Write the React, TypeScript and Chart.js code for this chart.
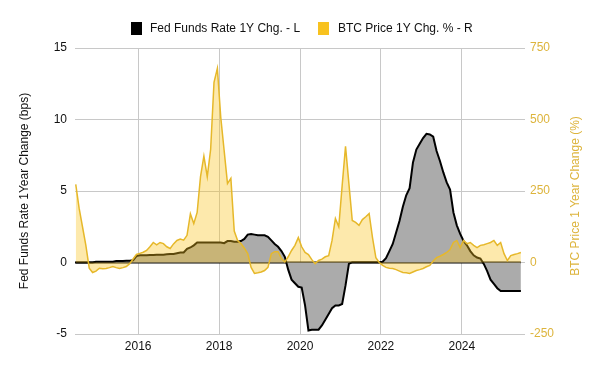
import React, { useEffect, useRef } from "react";
import { Chart, registerables } from "chart.js";

Chart.register(...registerables);

// Monthly observations, June 2014 .. June 2025
const startYear = 2014;
const startMonth = 6;

// Fed Funds Rate 1Y change (left axis)
const fedChange = [
  0, 0, 0, 0, 0, 0, 0.05, 0.05, 0.05, 0.05, 0.05, 0.05,
  0.1, 0.1, 0.1, 0.12, 0.12, 0.15, 0.45, 0.5, 0.5, 0.5, 0.52, 0.52,
  0.55, 0.55, 0.55, 0.58, 0.6, 0.6, 0.65, 0.7, 0.7, 0.95, 1.05, 1.2,
  1.4, 1.4, 1.4, 1.4, 1.4, 1.4, 1.4, 1.4, 1.35, 1.5, 1.5, 1.45,
  1.45, 1.5, 1.65, 1.95, 2.0, 1.95, 1.9, 1.9, 1.9, 1.8, 1.55, 1.3,
  1.1, 0.8, 0.4, -0.5, -1.2, -1.45, -1.7, -1.75, -3.0, -4.75, -4.7, -4.7,
  -4.7, -4.4, -4.0, -3.6, -3.2, -3.0, -3.0, -2.9, -1.6, -0.1, 0.02, 0.02,
  0.02, 0.02, 0.02, 0.02, 0.02, 0.02, 0.02, 0.05, 0.3, 0.8, 1.3, 2.1,
  2.9, 3.9, 4.7, 5.2, 7.0, 7.9, 8.3, 8.7, 9.0, 8.95, 8.8, 7.8,
  7.1, 6.3, 5.6, 5.1, 3.5, 2.6, 2.0, 1.5, 1.2, 0.8, 0.5, 0.35,
  0.28, -0.1, -0.6, -1.2, -1.5, -1.8, -2.0, -2.0, -2.0, -2.0, -2.0, -2.0,
  -2.0,
];

// BTC price 1Y change in % (right axis)
const btcChange = [
  273, 190, 125, 60, -20, -35, -30, -20, -22, -21, -18, -14,
  -18, -21, -18, -14, -4, 12, 28, 32, 36, 42, 55, 70,
  62, 70, 66, 55, 49, 65, 77, 82, 78, 95, 170, 136,
  175, 300, 372, 300, 395, 630, 679, 508, 392, 276, 294, 110,
  77, 66, 50, 31, -17, -38, -36, -33, -28, -17, 31, 38,
  38, 14, 2, 20, 42, 60, 87, 55, 35, 28, 10, -4,
  7, 12, 20, 24, 77, 154, 125, 269, 406, 276, 147, 140,
  130, 150, 160, 171, 87, 17, 0, -10, -17, -20, -21, -25,
  -30, -35, -36, -38, -33, -28, -25, -21, -15, -10, 5, 17,
  22, 28, 35, 45, 70, 77, 52, 77, 66, 70, 60, 52,
  60, 62, 66, 70, 77, 60, 70, 31, 7, 24, 28, 31,
  35,
];

const xTickYears = [2016, 2018, 2020, 2022, 2024];
const leftTicks = [-5, 0, 5, 10, 15];
const rightTicks = [-250, 0, 250, 500, 750];

const fedLabel = "Fed Funds Rate 1Y Chg. - L";
const btcLabel = "BTC Price 1Y Chg. % - R";
const leftTitle = "Fed Funds Rate 1Year Change (bps)";
const rightTitle = "BTC Price 1 Year Change (%)";

const GOLD_TEXT = "#DDB43C";
const GOLD_LINE = "#E6B82A";
const GOLD_LEGEND = "#F8C21F";
const FONT = "'Liberation Sans', Arial, sans-serif";

const monthX = (i: number) => startYear + (startMonth - 1 + i + 0.5) / 12;

export default function App() {
  const ref = useRef<HTMLCanvasElement | null>(null);

  useEffect(() => {
    document.body.style.margin = "0";
    const canvas = ref.current;
    if (!canvas) return;

    const fedData = fedChange.map((v, i) => ({ x: monthX(i), y: v }));
    const btcData = btcChange.map((v, i) => ({ x: monthX(i), y: v }));

    const decor = {
      id: "decor",
      beforeDatasetsDraw(chart: any) {
        const { ctx, chartArea } = chart;
        const y0 = chart.scales.y.getPixelForValue(0);
        ctx.save();
        ctx.strokeStyle = "#000";
        ctx.lineWidth = 2;
        ctx.beginPath();
        ctx.moveTo(chartArea.left, y0);
        ctx.lineTo(chart.scales.x.getPixelForValue(monthX(fedChange.length - 1)), y0);
        ctx.stroke();
        ctx.restore();
      },
      afterDraw(chart: any) {
        const { ctx, chartArea } = chart;
        ctx.save();
        ctx.font = `12px ${FONT}`;
        ctx.textBaseline = "middle";
        ctx.textAlign = "left";
        // legend
        ctx.fillStyle = "#000";
        ctx.fillRect(131, 22, 11, 13);
        ctx.fillStyle = "#111";
        ctx.fillText(fedLabel, 150, 28.5);
        ctx.fillStyle = GOLD_LEGEND;
        ctx.fillRect(318, 22, 11, 13);
        ctx.fillStyle = "#111";
        ctx.fillText(btcLabel, 338, 28.5);
        // axis titles
        const midY = (chartArea.top + chartArea.bottom) / 2;
        ctx.textAlign = "center";
        ctx.fillStyle = "#111";
        ctx.translate(25, midY);
        ctx.rotate(-Math.PI / 2);
        ctx.fillText(leftTitle, 0, 0);
        ctx.restore();
        ctx.save();
        ctx.font = `12px ${FONT}`;
        ctx.textBaseline = "middle";
        ctx.textAlign = "center";
        ctx.fillStyle = GOLD_TEXT;
        ctx.translate(576, midY + 5);
        ctx.rotate(-Math.PI / 2);
        ctx.fillText(rightTitle, 0, 0);
        ctx.restore();
      },
    };

    const chart = new Chart(canvas, {
      type: "line",
      data: {
        datasets: [
          {
            label: fedLabel,
            data: fedData,
            yAxisID: "y",
            borderColor: "#000",
            borderWidth: 2,
            backgroundColor: "#ababab",
            fill: "origin",
            pointRadius: 0,
            tension: 0,
            order: 1,
          },
          {
            label: btcLabel,
            data: btcData,
            yAxisID: "y1",
            borderColor: GOLD_LINE,
            borderWidth: 1.5,
            backgroundColor: "rgba(250,194,29,0.37)",
            fill: "origin",
            pointRadius: 0,
            tension: 0,
            order: 0,
          },
        ],
      },
      options: {
        responsive: false,
        animation: false,
        layout: { padding: { top: 48, left: 0, right: 0, bottom: 0 } },
        plugins: {
          legend: { display: false },
          tooltip: { enabled: false },
        },
        scales: {
          x: {
            type: "linear",
            min: 2014.44,
            max: 2025.56,
            afterBuildTicks: (s: any) => {
              s.ticks = xTickYears.map((v) => ({ value: v }));
            },
            afterFit: (s: any) => {
              s.height = 37;
            },
            ticks: {
              autoSkip: false,
              maxRotation: 0,
              padding: 5,
              color: "#111",
              font: { size: 12, family: FONT },
              callback: (v: any) => String(v),
            },
            grid: { color: "#c8c8c8", drawTicks: false },
            border: { display: false },
          },
          y: {
            position: "left",
            min: -5,
            max: 15,
            afterBuildTicks: (s: any) => {
              s.ticks = leftTicks.map((v) => ({ value: v }));
            },
            afterFit: (s: any) => {
              s.width = 75;
            },
            ticks: {
              padding: 8,
              color: "#111",
              font: { size: 12, family: FONT },
              callback: (v: any) => String(v),
            },
            grid: { color: "#c8c8c8", drawTicks: false },
            border: { display: false },
          },
          y1: {
            position: "right",
            min: -250,
            max: 750,
            afterBuildTicks: (s: any) => {
              s.ticks = rightTicks.map((v) => ({ value: v }));
            },
            afterFit: (s: any) => {
              s.width = 75;
            },
            ticks: {
              padding: 5,
              color: GOLD_TEXT,
              font: { size: 12, family: FONT },
              callback: (v: any) => String(v),
            },
            grid: { display: false, drawTicks: false },
            border: { display: false },
          },
        },
      },
      plugins: [decor],
    } as any);

    return () => chart.destroy();
  }, []);

  return (
    <div style={{ width: 600, height: 371, background: "#fff" }}>
      <canvas ref={ref} width={600} height={371} style={{ display: "block" }} />
    </div>
  );
}
